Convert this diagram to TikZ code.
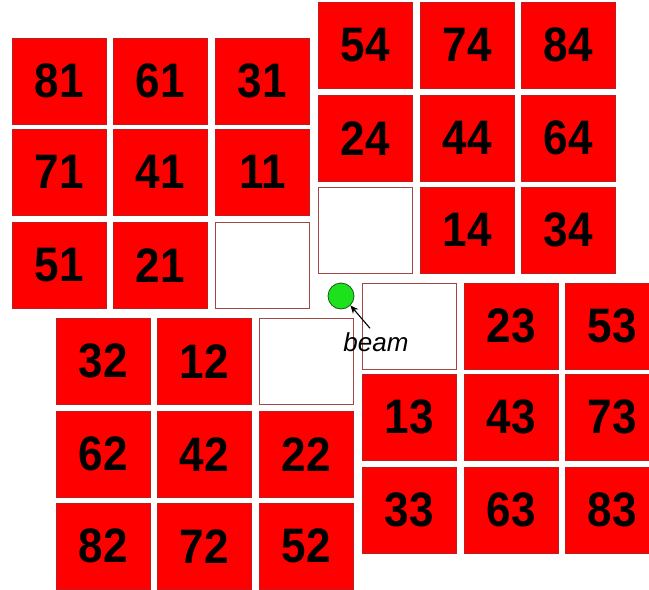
\documentclass[tikz,border=0pt]{standalone}
\usepackage{fontspec}
\setmainfont{Liberation Sans}
\usetikzlibrary{arrows.meta}
\definecolor{cellred}{RGB}{255,0,0}
\definecolor{celledge}{RGB}{190,30,30}
\definecolor{emptyedge}{RGB}{160,70,70}
\definecolor{spotgreen}{RGB}{30,225,30}
\definecolor{spotedge}{RGB}{20,90,20}
\begin{document}
\begin{tikzpicture}[x=1pt,y=-1pt,
  cell/.style={draw=celledge, fill=cellred, line width=0.6pt, minimum width=94pt,
    minimum height=86pt, inner sep=0pt, anchor=north west,
    font=\fontsize{44}{44}\selectfont\bfseries},
  emptycell/.style={draw=emptyedge, fill=white, line width=0.9pt, minimum width=94pt,
    minimum height=86pt, inner sep=0pt, anchor=north west},
  spotstyle/.style={circle, draw=spotedge, fill=spotgreen, minimum size=26pt,
    inner sep=0pt, line width=0.8pt},
  beamlabel/.style={font=\fontsize{26}{26}\selectfont\itshape, inner sep=0pt},
  beamarrow/.style={-{Stealth[length=8pt,width=7pt]}, line width=1.1pt}]
\clip (0,0) rectangle (649,590);
\fill[white] (0,0) rectangle (649,590);
% top-left group
\foreach \x/\y/\t in {12/38/81,113/38/61,215/38/31,
                      12/129/71,113/129/41,215/129/11,
                      12/222/51,113/222/21}
  \node[cell] (c\t) at (\x,\y) {\scalebox{1}[1.1]{\t}};
\node[emptycell] (e1) at (215,222) {};
% top-right group
\foreach \x/\y/\t in {318/2/54,420/2/74,521/2/84,
                      318/95/24,420/95/44,521/95/64,
                      420/187/14,521/187/34}
  \node[cell] (c\t) at (\x,\y) {\scalebox{1}[1.1]{\t}};
\node[emptycell] (e2) at (318,187) {};
% bottom-left group
\foreach \x/\y/\t in {56/318/32,157/318/12,
                      56/411/62,157/411/42,259/411/22,
                      56/503/82,157/503/72,259/503/52}
  \node[cell] (c\t) at (\x,\y) {\scalebox{1}[1.1]{\t}};
\node[emptycell] (e3) at (259,318) {};
% bottom-right group
\foreach \x/\y/\t in {464/283/23,565/283/53,
                      362/374/13,464/374/43,565/374/73,
                      362/467/33,464/467/63,565/467/83}
  \node[cell] (c\t) at (\x,\y) {\scalebox{1}[1.1]{\t}};
\node[emptycell] (e4) at (362,283) {};
% beam
\node[spotstyle] (spot) at (341,296) {};
\node[beamlabel] (lbl) at (376,342) {beam};
\draw[beamarrow] ([shift={(-6pt,4pt)}]lbl.north) -- (spot.south east);
\end{tikzpicture}
\end{document}
